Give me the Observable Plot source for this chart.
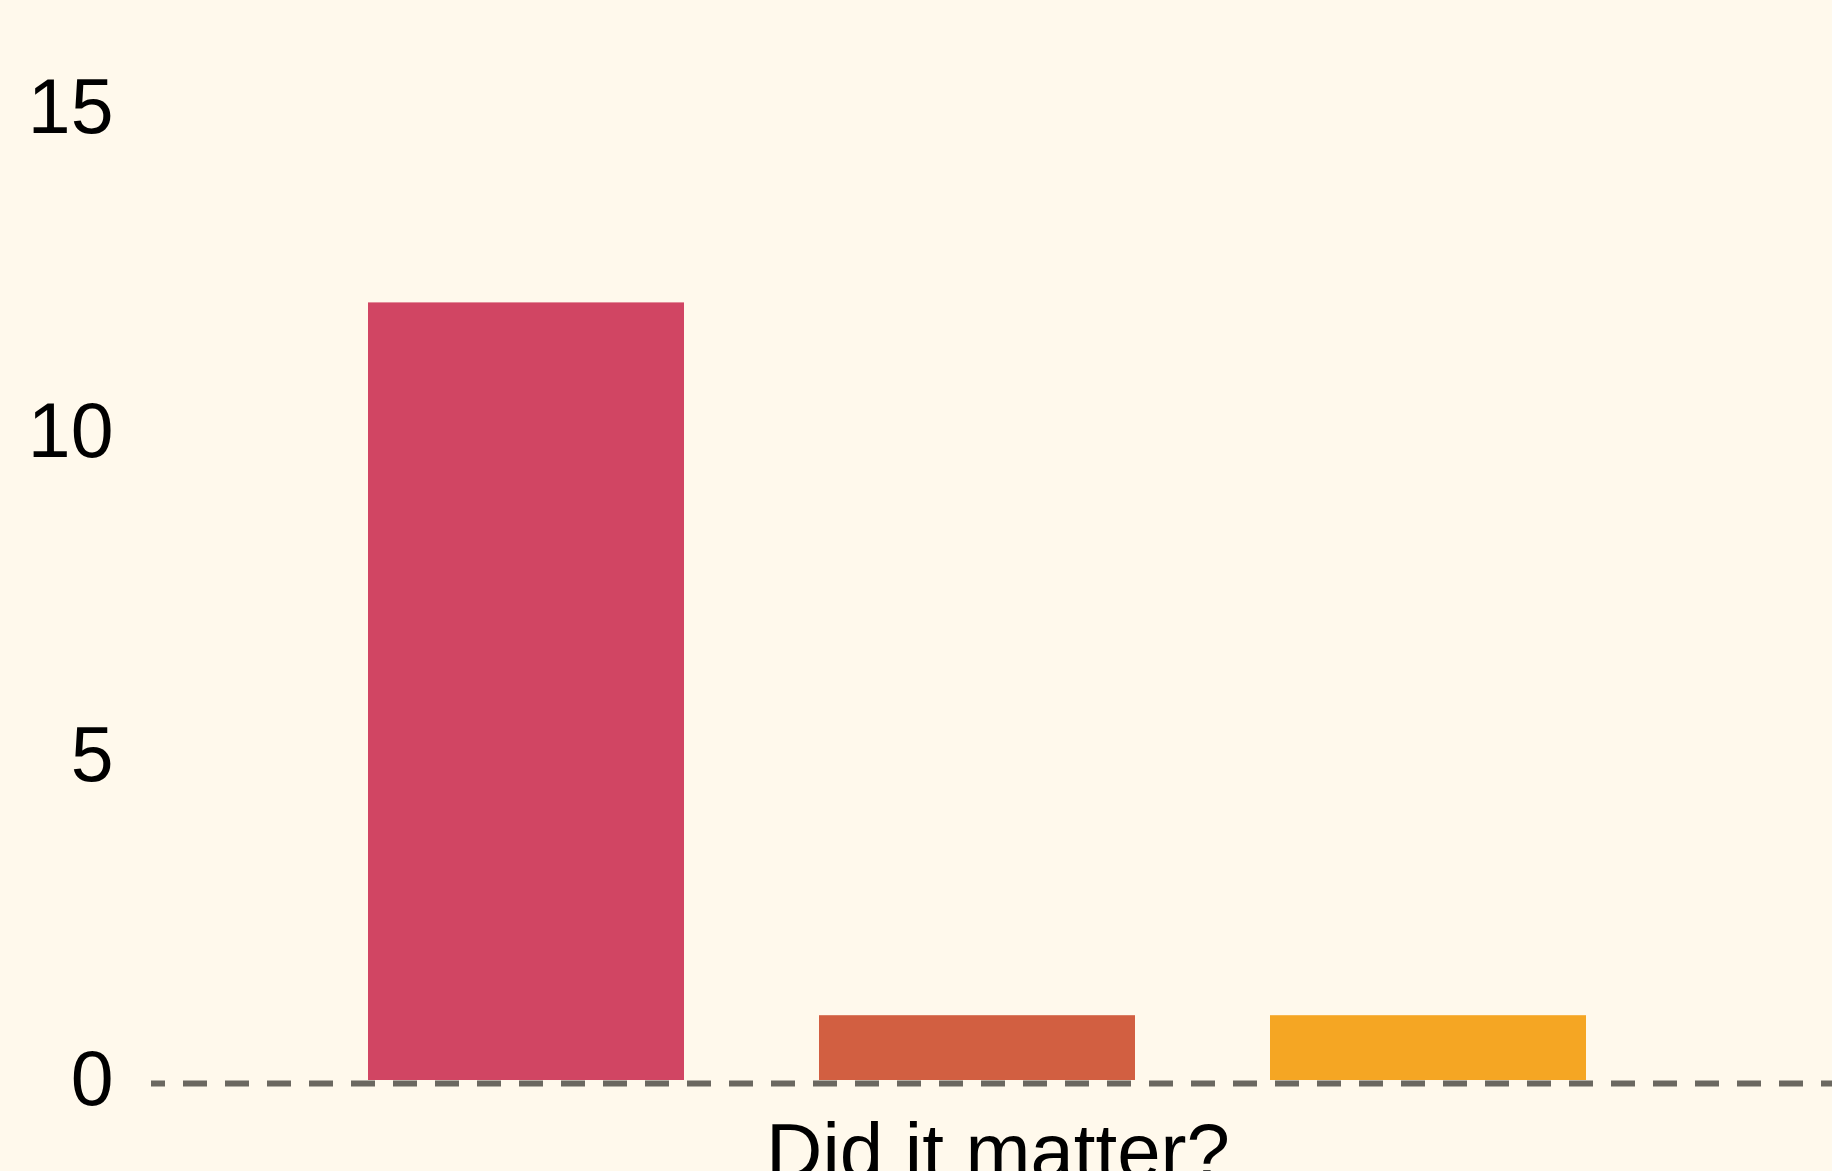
<!DOCTYPE html>
<html>
<head>
<meta charset="utf-8">
<script src="https://cdn.jsdelivr.net/npm/d3@7"></script>
<script src="https://cdn.jsdelivr.net/npm/@observablehq/plot@0.6"></script>
<style>
  html, body { margin: 0; padding: 0; background: #FFF9EC; overflow: hidden; }
  #chart svg { display: block; background: #FFF9EC; }
</style>
</head>
<body>
<div id="chart"></div>
<script>
const categories = ["Yes", "No", "Not sure"];
const counts = [12, 1, 1];
const colors = ["#D14563", "#D25F41", "#F5A623"];
const yTicks = [0, 5, 10, 15];
const xTitle = "Did it matter?";

const data = categories.map((c, i) => ({category: c, count: counts[i]}));

const chart = Plot.plot({
  width: 1832,
  height: 1171,
  marginLeft: 151,
  marginRight: 0,
  marginTop: 0,
  marginBottom: 91,
  style: {background: "#FFF9EC", fontFamily: "'Liberation Sans', Arial, sans-serif", color: "#000"},
  x: {domain: categories, range: [231.4, 1723], padding: 0.3, axis: null},
  y: {domain: [0, 15], range: [1080, 108], axis: null},
  color: {domain: categories, range: colors},
  marks: [
    Plot.barY(data, {x: "category", y: "count", fill: "category"}),
    Plot.ruleY([0], {stroke: "#6B6860", strokeWidth: 6, strokeDasharray: "24,18", strokeDashoffset: 10, dy: 3}),
    Plot.axisY({ticks: yTicks, tickSize: 0, tickPadding: 38, fontSize: 77, fill: "#000", label: null}),
    Plot.text([xTitle], {frameAnchor: "bottom", lineAnchor: "middle", dy: 73, dx: 6, fontSize: 78, fill: "#000"})
  ]
});
document.getElementById("chart").append(chart);
</script>
</body>
</html>
